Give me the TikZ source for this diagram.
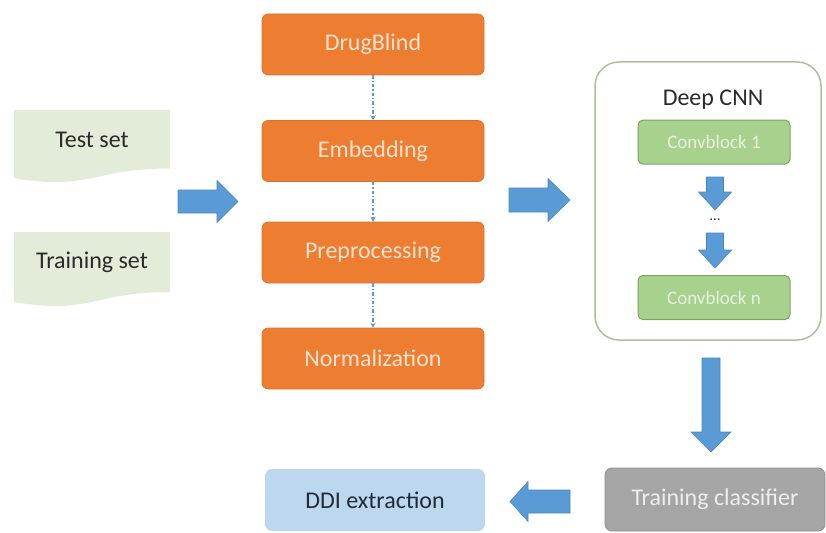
\documentclass[tikz,border=0pt]{standalone}
\usepackage{fontspec}
\setmainfont{Carlito}
\usetikzlibrary{arrows.meta}

\definecolor{orangefill}{HTML}{ED7D31}
\definecolor{orangeedge}{HTML}{D9722C}
\definecolor{creamtext}{HTML}{FBE3D0}
\definecolor{docgreen}{HTML}{E3EBD9}
\definecolor{darktext}{HTML}{2A2A2A}
\definecolor{arrowblue}{HTML}{5B9BD5}
\definecolor{arrowedge}{HTML}{4A86BE}
\definecolor{cnnedge}{HTML}{A9C196}
\definecolor{convfill}{HTML}{A9D18E}
\definecolor{convedge}{HTML}{7DA263}
\definecolor{convtext}{HTML}{E6F0DE}
\definecolor{grayfill}{HTML}{A5A5A5}
\definecolor{grayedge}{HTML}{8F8F8F}
\definecolor{graytext}{HTML}{EEEEEE}
\definecolor{ddifill}{HTML}{BDD7EE}
\definecolor{dditext}{HTML}{1E2B38}

% horizontal block arrow: tail x, head-base x, tip x, centre y, shaft half-width, head half-width
\newcommand\harrow[6]{%
  \filldraw[bluearrow] (#1,{#4-#5}) -- (#2,{#4-#5}) -- (#2,{#4-#6}) -- (#3,#4)
    -- (#2,{#4+#6}) -- (#2,{#4+#5}) -- (#1,{#4+#5}) -- cycle;}
% vertical block arrow: tail y, head-base y, tip y, centre x, shaft half-width, head half-width
\newcommand\varrow[6]{%
  \filldraw[bluearrow] ({#4-#5},#1) -- ({#4-#5},#2) -- ({#4-#6},#2) -- (#4,#3)
    -- ({#4+#6},#2) -- ({#4+#5},#2) -- ({#4+#5},#1) -- cycle;}

\begin{document}
\begin{tikzpicture}[x=1pt,y=-1pt,
  bigfont/.style={font=\fontsize{24}{28}\selectfont},
  stage/.style={rounded corners=6pt, minimum width=222pt, minimum height=61pt,
    inner sep=0pt, fill=orangefill, draw=orangeedge, line width=0.6pt,
    text=creamtext, bigfont},
  doctext/.style={text=darktext, bigfont, inner sep=0pt},
  docshape/.style={fill=docgreen},
  flow/.style={draw=arrowblue, line width=1.1pt,
    dash pattern=on 3.5pt off 2pt on 1.2pt off 2pt,
    -{Stealth[length=5pt,width=5.5pt]}},
  bluearrow/.style={fill=arrowblue, draw=arrowedge, line width=0.6pt},
  container/.style={draw=cnnedge, line width=1.5pt, rounded corners=24pt,
    minimum width=226pt, minimum height=278pt, inner sep=0pt},
  conv/.style={rounded corners=5pt, minimum width=152pt, minimum height=44pt,
    inner sep=0pt, fill=convfill, draw=convedge, line width=1pt,
    text=convtext, font=\fontsize{19}{22}\selectfont},
  classifier/.style={rounded corners=7pt, minimum width=220pt, minimum height=63pt,
    inner sep=0pt, fill=grayfill, draw=grayedge, line width=0.8pt,
    text=graytext, bigfont},
  result/.style={rounded corners=7pt, minimum width=220pt, minimum height=62pt,
    inner sep=0pt, fill=ddifill, text=dditext, bigfont}]
\useasboundingbox (0,0) rectangle (826,532);

% input data sets (document shapes)
\path[docshape] (14,110) -- (170,110) -- (170,168.5)
  .. controls (92,168.5) and (92,190.8) .. (14,178.2) -- cycle;
\node[doctext] (test) at (92,140) {Test set};
\path[docshape] (14,232) -- (170,232) -- (170,292)
  .. controls (92,292) and (92,315) .. (14,302) -- cycle;
\node[doctext] (train) at (92,262) {Training set};

\harrow{178}{217}{238}{201.5}{11.5}{21}

% preprocessing pipeline
\node[stage] (drug) at (373,44.5) {DrugBlind};
\node[stage] (emb)  at (373,151)  {Embedding};
\node[stage] (pre)  at (373,252.5) {Preprocessing};
\node[stage] (norm) at (373,358.5) {Normalization};
\draw[flow] (drug.south) -- (emb.north);
\draw[flow] (emb.south) -- (pre.north);
\draw[flow] (pre.south) -- (norm.north);

\harrow{509}{548}{570}{200}{12}{21.5}

% deep CNN block
\node[container] (cnn) at (708,201) {};
\node[text=darktext, bigfont, inner sep=0pt] (cnntitle) at (713,100) {Deep CNN};
\node[conv] (cb1) at (714,142) {Convblock 1};
\node[conv] (cbn) at (714,297.5) {Convblock n};
\varrow{177}{192}{210}{715}{8.5}{16.5}
\node[text=darktext, font=\fontsize{15}{16}\selectfont, inner sep=0pt] (dots) at (715,220) {...};
\varrow{233}{250}{268}{715}{8.5}{16.5}

\varrow{358}{432}{452}{711}{9}{20}

% classifier and output
\node[classifier] (clf) at (715,499.5) {Training classifier};
\node[result] (ddi) at (375,500) {DDI extraction};
\harrow{570}{528}{510}{501.5}{11.5}{20}
\end{tikzpicture}
\end{document}
